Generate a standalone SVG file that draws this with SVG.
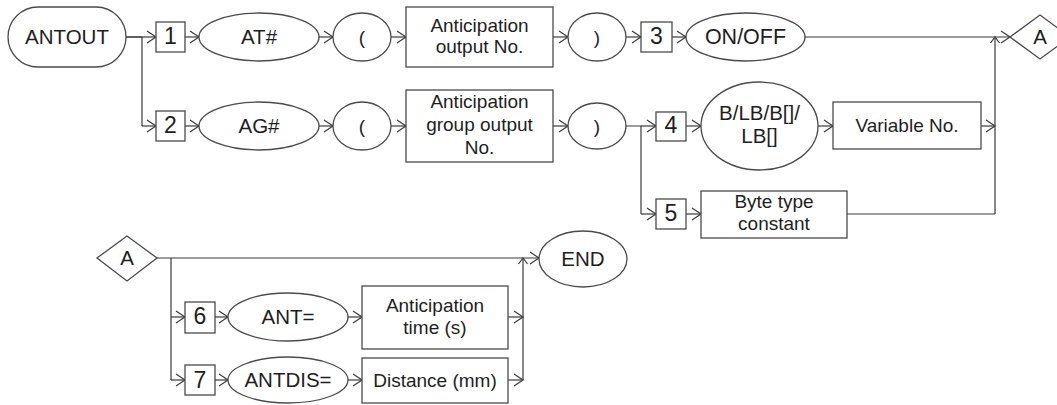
<svg xmlns="http://www.w3.org/2000/svg" width="1057" height="405" viewBox="0 0 1057 405">
<defs>
<marker id="arr" markerUnits="userSpaceOnUse" markerWidth="12" markerHeight="14" refX="9" refY="6" orient="auto" overflow="visible">
<path d="M0,0 L9,6 L0,12" fill="none" stroke="#3a3a3a" stroke-width="1.2"/>
</marker>
</defs>
<style>
.shp{fill:#fff;stroke:#4a4a4a;stroke-width:1.3}
.t{font-family:"Liberation Sans",Arial,sans-serif;font-size:19px;fill:#1e1e1e;text-anchor:middle}
.big{font-size:20.5px}
.num{font-size:23px}
.ln{fill:none;stroke:#3a3a3a;stroke-width:1.2}
.ar{fill:none;stroke:#3a3a3a;stroke-width:1.2;marker-end:url(#arr)}
</style>
<rect width="1057" height="405" fill="#fff"/>

<g id="connectors">
<path class="ln" d="M126,37 H142 V126"/>
<path class="ar" d="M126,37 H156"/>
<path class="ar" d="M142,126 H156"/>
<path class="ar" d="M185,37 H199"/>
<path class="ar" d="M319,37 H333"/>
<path class="ar" d="M391,37 H406"/>
<path class="ar" d="M553,37 H568"/>
<path class="ar" d="M626,37 H641"/>
<path class="ar" d="M672,37 H686"/>
<path class="ar" d="M805,37 H1010"/>
<path class="ln" d="M995,214 V37"/>
<path class="ln" d="M990.5,43 L995,37 L999.5,43"/>
<path class="ar" d="M185,126 H199"/>
<path class="ar" d="M319,126 H333"/>
<path class="ar" d="M391,126 H406"/>
<path class="ar" d="M553,126 H568"/>
<path class="ln" d="M626,126 H641 V214"/>
<path class="ar" d="M641,126 H656"/>
<path class="ar" d="M641,214 H656"/>
<path class="ar" d="M686,126 H701"/>
<path class="ar" d="M818,126 H833"/>
<path class="ar" d="M981,126 H995"/>
<path class="ar" d="M686,214 H701"/>
<path class="ln" d="M847,214 H995"/>
<path class="ar" d="M157,258 H539"/>
<path class="ln" d="M171,258 V380"/>
<path class="ar" d="M171,317 H185"/>
<path class="ar" d="M171,380 H185"/>
<path class="ar" d="M215,317 H228"/>
<path class="ar" d="M348,317 H362"/>
<path class="ar" d="M508,317 H523"/>
<path class="ar" d="M215,380 H228"/>
<path class="ar" d="M348,380 H362"/>
<path class="ar" d="M508,380 H523"/>
<path class="ln" d="M523,380 V258"/>
<path class="ln" d="M518.5,264 L523,258 L527.5,264"/>
</g>

<g id="antout"><rect class="shp" x="8" y="7" width="118" height="60" rx="30"/><text class="t big" x="67" y="44">ANTOUT</text></g>
<g id="n1"><rect class="shp" x="156" y="22" width="29" height="30"/><text class="t num" x="170.5" y="44">1</text></g>
<g id="at"><ellipse class="shp" cx="259" cy="37" rx="60" ry="24"/><text class="t big" x="259" y="44">AT#</text></g>
<g id="lp1"><ellipse class="shp" cx="362" cy="37" rx="29" ry="24"/><text class="t" x="362" y="44">(</text></g>
<g id="aon"><rect class="shp" x="406" y="7" width="147" height="60"/><text class="t" x="479.5" y="32">Anticipation</text><text class="t" x="479.5" y="53">output No.</text></g>
<g id="rp1"><ellipse class="shp" cx="597" cy="37" rx="29" ry="24"/><text class="t" x="597" y="44">)</text></g>
<g id="n3"><rect class="shp" x="641" y="22" width="31" height="30"/><text class="t num" x="656.5" y="44">3</text></g>
<g id="onoff"><ellipse class="shp" cx="745.5" cy="37" rx="59.5" ry="24"/><text class="t" style="font-size:21.5px" x="745.5" y="44">ON/OFF</text></g>
<g id="a1"><polygon class="shp" points="1010,37 1040,15 1070,37 1040,59"/><text class="t big" x="1040" y="44">A</text></g>

<g id="n2"><rect class="shp" x="156" y="111" width="29" height="30"/><text class="t num" x="170.5" y="133">2</text></g>
<g id="ag"><ellipse class="shp" cx="259" cy="126" rx="60" ry="24"/><text class="t big" x="259" y="133">AG#</text></g>
<g id="lp2"><ellipse class="shp" cx="362" cy="126" rx="29" ry="24"/><text class="t" x="362" y="133">(</text></g>
<g id="agon"><rect class="shp" x="406" y="90" width="147" height="72"/><text class="t" x="479.5" y="108">Anticipation</text><text class="t" x="479.5" y="131">group output</text><text class="t" x="479.5" y="154">No.</text></g>
<g id="rp2"><ellipse class="shp" cx="597" cy="126" rx="29" ry="23"/><text class="t" x="597" y="133">)</text></g>
<g id="n4"><rect class="shp" x="656" y="112" width="30" height="29"/><text class="t num" x="671" y="133">4</text></g>
<g id="blb"><ellipse class="shp" cx="759.5" cy="126" rx="58.5" ry="44"/><text class="t big" x="759.5" y="120">B/LB/B[]/</text><text class="t big" x="759.5" y="143">LB[]</text></g>
<g id="varno"><rect class="shp" x="833" y="102" width="148" height="47"/><text class="t" x="907" y="132">Variable No.</text></g>
<g id="n5"><rect class="shp" x="656" y="199" width="30" height="30"/><text class="t num" x="671" y="221">5</text></g>
<g id="byte"><rect class="shp" x="701" y="191" width="146" height="47"/><text class="t" x="774" y="208">Byte type</text><text class="t" x="774" y="230">constant</text></g>

<g id="a2"><polygon class="shp" points="97,258 127,236 157,258 127,281"/><text class="t big" x="127" y="265">A</text></g>
<g id="end"><ellipse class="shp" cx="583" cy="259" rx="44" ry="28"/><text class="t big" x="583" y="266">END</text></g>
<g id="n6"><rect class="shp" x="185" y="302" width="30" height="31"/><text class="t num" x="200" y="324">6</text></g>
<g id="ant"><ellipse class="shp" cx="288" cy="317" rx="60" ry="24"/><text class="t big" x="288" y="324">ANT=</text></g>
<g id="atime"><rect class="shp" x="362" y="286" width="146" height="63"/><text class="t" x="435" y="312">Anticipation</text><text class="t" x="435" y="334">time (s)</text></g>
<g id="n7"><rect class="shp" x="185" y="365" width="30" height="30"/><text class="t num" x="200" y="388">7</text></g>
<g id="antdis"><ellipse class="shp" cx="288" cy="380" rx="60" ry="23"/><text class="t big" x="288" y="387">ANTDIS=</text></g>
<g id="dist"><rect class="shp" x="362" y="358" width="146" height="45"/><text class="t" x="435" y="387">Distance (mm)</text></g>
</svg>
